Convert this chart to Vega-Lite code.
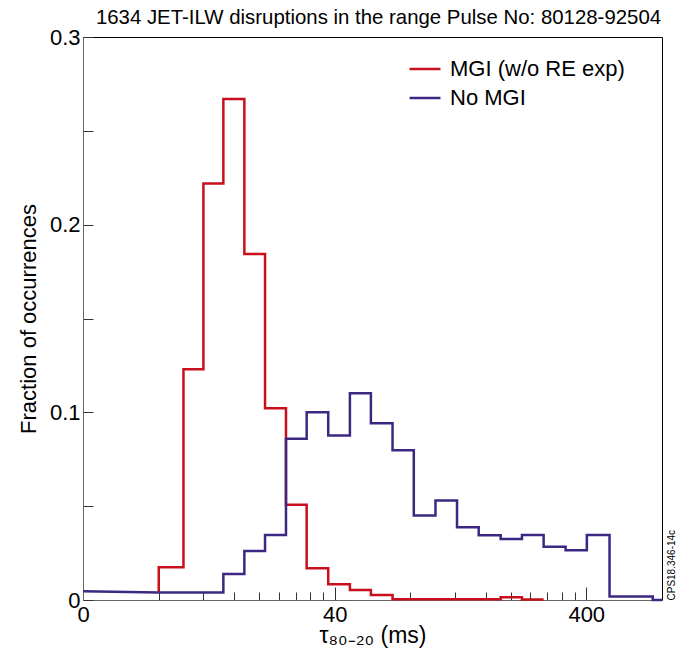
{
  "$schema": "https://vega.github.io/schema/vega-lite/v6.json",
  "width": 579,
  "height": 563,
  "autosize": {"type": "none"},
  "padding": {"left": 83, "top": 37, "right": 18, "bottom": 60},
  "background": "white",
  "title": {"text": "1634 JET-ILW disruptions in the range Pulse No: 80128-92504", "font": "Liberation Sans", "fontSize": 20.4, "fontWeight": "normal", "color": "#000", "anchor": "middle", "frame": "group", "offset": -2, "dx": 6},
  "config": {
    "view": {"stroke": "#000", "strokeWidth": 1},
    "axis": {"grid": false, "domainColor": "#666", "domainWidth": 1, "tickColor": "#333", "tickWidth": 1, "labelFont": "Liberation Sans", "labelFontSize": 22, "labelColor": "#000", "titleFont": "Liberation Sans", "titleFontSize": 22, "titleFontWeight": "normal", "titleColor": "#000", "labelOverlap": false}
  },
  "datasets": {
    "hist": [
      {"series": "MGI (w/o RE exp)", "x": 7.99, "y": 0.004},
      {"series": "MGI (w/o RE exp)", "x": 8.0, "y": 0.0174},
      {"series": "MGI (w/o RE exp)", "x": 10.03, "y": 0.123},
      {"series": "MGI (w/o RE exp)", "x": 12.04, "y": 0.2219},
      {"series": "MGI (w/o RE exp)", "x": 14.45, "y": 0.267},
      {"series": "MGI (w/o RE exp)", "x": 17.51, "y": 0.1844},
      {"series": "MGI (w/o RE exp)", "x": 21.16, "y": 0.1022},
      {"series": "MGI (w/o RE exp)", "x": 25.63, "y": 0.0507},
      {"series": "MGI (w/o RE exp)", "x": 30.97, "y": 0.0169},
      {"series": "MGI (w/o RE exp)", "x": 37.73, "y": 0.0084},
      {"series": "MGI (w/o RE exp)", "x": 46.0, "y": 0.0053},
      {"series": "MGI (w/o RE exp)", "x": 55.74, "y": 0.0027},
      {"series": "MGI (w/o RE exp)", "x": 67.96, "y": 0.0004},
      {"series": "MGI (w/o RE exp)", "x": 82.55, "y": 0.0004},
      {"series": "MGI (w/o RE exp)", "x": 100.66, "y": 0.0004},
      {"series": "MGI (w/o RE exp)", "x": 122.6, "y": 0.0004},
      {"series": "MGI (w/o RE exp)", "x": 149.5, "y": 0.0004},
      {"series": "MGI (w/o RE exp)", "x": 182.8, "y": 0.0015},
      {"series": "MGI (w/o RE exp)", "x": 222.1, "y": 0.0003},
      {"series": "MGI (w/o RE exp)", "x": 270.8, "y": 0.0003},
      {"series": "No MGI", "x": 8.0, "y": 0.004},
      {"series": "No MGI", "x": 14.45, "y": 0.0139},
      {"series": "No MGI", "x": 17.51, "y": 0.0261},
      {"series": "No MGI", "x": 21.16, "y": 0.0347},
      {"series": "No MGI", "x": 25.63, "y": 0.0859},
      {"series": "No MGI", "x": 30.97, "y": 0.1001},
      {"series": "No MGI", "x": 37.73, "y": 0.0876},
      {"series": "No MGI", "x": 46.0, "y": 0.1102},
      {"series": "No MGI", "x": 55.74, "y": 0.0942},
      {"series": "No MGI", "x": 67.96, "y": 0.0798},
      {"series": "No MGI", "x": 82.55, "y": 0.045},
      {"series": "No MGI", "x": 100.66, "y": 0.053},
      {"series": "No MGI", "x": 122.6, "y": 0.0388},
      {"series": "No MGI", "x": 149.5, "y": 0.0345},
      {"series": "No MGI", "x": 182.8, "y": 0.0325},
      {"series": "No MGI", "x": 222.1, "y": 0.0347},
      {"series": "No MGI", "x": 270.8, "y": 0.0284},
      {"series": "No MGI", "x": 331.1, "y": 0.0265},
      {"series": "No MGI", "x": 402.2, "y": 0.0347},
      {"series": "No MGI", "x": 495.0, "y": 0.0018},
      {"series": "No MGI", "x": 602.4, "y": 0.0018},
      {"series": "No MGI", "x": 735.0, "y": 0.0},
      {"series": "No MGI", "x": 800.0, "y": 0.0}
    ],
    "tail": [
      {"series": "No MGI", "x": 4.0, "y": 0.0046},
      {"series": "No MGI", "x": 8.0, "y": 0.004}
    ]
  },
  "encoding": {
    "x": {
      "field": "x", "type": "quantitative",
      "scale": {"type": "log", "domain": [4, 800], "nice": false},
      "axis": {
        "title": "τ₈₀₋₂₀ (ms)",
        "titleFontSize": 23,
        "titleY": 42,
        "titleBaseline": "alphabetic",
        "values": [4, 8, 12, 16, 20, 24, 28, 32, 36, 40, 80, 120, 160, 200, 240, 280, 320, 360, 400],
        "labelExpr": "datum.value == 4 ? '0' : datum.value == 40 ? '40' : datum.value == 400 ? '400' : ''",
        "labelFlush": false,
        "tickSize": {"condition": {"test": "datum.value == 40 || datum.value == 400", "value": -13}, "value": -8},
        "labelPadding": {"condition": {"test": "datum.value == 40 || datum.value == 400", "value": 17}, "value": 12}
      }
    },
    "y": {
      "field": "y", "type": "quantitative",
      "scale": {"domain": [0, 0.3], "nice": false, "zero": false},
      "axis": {
        "title": "Fraction of occurrences",
        "titleX": -48,
        "titleBaseline": "alphabetic",
        "values": [0, 0.05, 0.1, 0.15, 0.2, 0.25, 0.3],
        "format": "~g",
        "labelExpr": "indexof(['0','0.1','0.2','0.3'], datum.label) >= 0 ? datum.label : ''",
        "tickSize": -10,
        "labelPadding": 13
      }
    },
    "color": {
      "field": "series", "type": "nominal",
      "scale": {"domain": ["MGI (w/o RE exp)", "No MGI"], "range": ["#c8101c", "#3c2882"]},
      "legend": {"title": null, "orient": "none", "legendX": 325, "legendY": 15, "labelFont": "Liberation Sans", "labelFontSize": 22, "labelColor": "#000", "labelLimit": 0, "symbolType": "stroke", "symbolSize": 961, "symbolStrokeWidth": 2.5, "rowPadding": 1, "labelOffset": 8, "padding": 0}
    }
  },
  "layer": [
    {
      "data": {"name": "hist"},
      "transform": [{"filter": "datum.series == 'MGI (w/o RE exp)'"}],
      "mark": {"type": "line", "interpolate": "step-after", "strokeWidth": 2.5}
    },
    {
      "data": {"name": "hist"},
      "transform": [{"filter": "datum.series == 'No MGI'"}],
      "mark": {"type": "line", "interpolate": "step-after", "strokeWidth": 2.5},
      "encoding": {"y": {"field": "y", "type": "quantitative", "axis": null}}
    },
    {
      "data": {"name": "tail"},
      "mark": {"type": "line", "strokeWidth": 2.5},
      "encoding": {"y": {"field": "y", "type": "quantitative", "axis": {"orient": "right", "title": "CPS18.346-14c", "labels": false, "ticks": false, "domain": false, "titleFontSize": 10, "titleFont": "Liberation Sans", "titleAngle": 270, "titleX": 9, "titleY": 563, "titleAlign": "left", "titleBaseline": "middle"}}}
    }
  ],
  "resolve": {"axis": {"y": "independent"}}
}
